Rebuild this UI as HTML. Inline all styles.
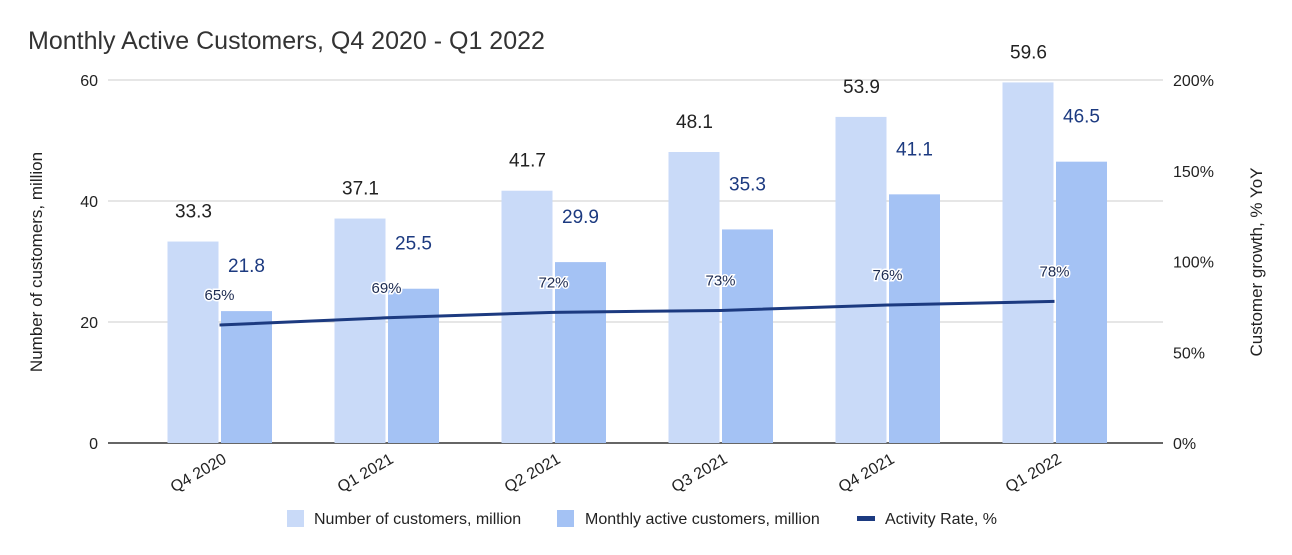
<!DOCTYPE html>
<html><head><meta charset="utf-8"><style>
body{margin:0;background:#fff;}
svg{display:block;font-family:"Liberation Sans",Arial,sans-serif;}
</style></head><body>
<svg id="chart" width="1292" height="555">
<text x="28" y="49" font-size="25" fill="#333">Monthly Active Customers, Q4 2020 - Q1 2022</text>
<text transform="translate(42,262) rotate(-90)" text-anchor="middle" font-size="17" fill="#222">Number of customers, million</text>
<text transform="translate(1262,262) rotate(-90)" text-anchor="middle" font-size="17" fill="#222">Customer growth, % YoY</text>
<g id="grid"></g><g id="bars"></g><g id="line"></g><g id="labels"></g>
<g id="legend">
<rect x="287" y="510" width="17" height="17" fill="#c9daf8"/>
<text x="314" y="524" font-size="16" fill="#222">Number of customers, million</text>
<rect x="557" y="510" width="17" height="17" fill="#a4c2f4"/>
<text x="585" y="524" font-size="16" fill="#222">Monthly active customers, million</text>
<rect x="857" y="516" width="18" height="5" fill="#1c3a80"/>
<text x="885" y="524" font-size="16" fill="#222">Activity Rate, %</text>
</g>
</svg>
<script>
const categories=["Q4 2020","Q1 2021","Q2 2021","Q3 2021","Q4 2021","Q1 2022"];
const customers=[33.3,37.1,41.7,48.1,53.9,59.6];
const activeCustomers=[21.8,25.5,29.9,35.3,41.1,46.5];
const activityRate=[65,69,72,73,76,78];
const leftTicks=[0,20,40,60];
const rightTicks=[0,50,100,150,200];
const NS="http://www.w3.org/2000/svg";
const y0=443,y1=80,pl=108,pr=1163;
const yL=v=>y0-(v/60)*(y0-y1);
const yR=v=>y0-(v/200)*(y0-y1);
const xC=i=>219.5+167*i;
function mk(t,a,p){const e=document.createElementNS(NS,t);for(const k in a)e.setAttribute(k,a[k]);document.getElementById(p).appendChild(e);return e;}
leftTicks.forEach(t=>{
 const l=mk("line",{x1:pl,x2:pr,y1:yL(t),y2:yL(t),stroke:t===0?"#333":"#ccc","stroke-width":t===0?1.5:1},"grid");
 
 
 const tx=mk("text",{x:98,y:yL(t)+6,"text-anchor":"end","font-size":16,fill:"#222"},"grid");tx.textContent=t;
 
 
});
rightTicks.forEach(t=>{
 const tx=mk("text",{x:1173,y:yR(t)+6,"font-size":16,fill:"#222"},"grid");tx.textContent=t+"%";
 
 
});
categories.forEach((c,i)=>{
 const cx=xC(i);
 const b1=mk("rect",{x:cx-52,y:yL(customers[i]),width:51,height:y0-yL(customers[i]),fill:"#c9daf8"},"bars");
 
 
 const b2=mk("rect",{x:cx+1.5,y:yL(activeCustomers[i]),width:51,height:y0-yL(activeCustomers[i]),fill:"#a4c2f4"},"bars");
 
 
 const t1=mk("text",{x:cx-26,y:yL(customers[i])-24,"text-anchor":"middle","font-size":19,fill:"#222"},"labels");t1.textContent=customers[i].toFixed(1);
 
 
 const t2=mk("text",{x:cx+27,y:yL(activeCustomers[i])-39,"text-anchor":"middle","font-size":19,fill:"#1c3a80"},"labels");t2.textContent=activeCustomers[i].toFixed(1);
 
 
 const t3=mk("text",{x:cx,y:yR(activityRate[i])-25,"text-anchor":"middle","font-size":15,fill:"#1c2a50",stroke:"#fff","stroke-width":3,"paint-order":"stroke"},"labels");t3.textContent=activityRate[i]+"%";
 
 
 const xl=mk("text",{transform:`translate(${cx+8},${462}) rotate(-30)`,"text-anchor":"end","font-size":16,fill:"#222"},"labels");xl.textContent=c;
 
 
});
const pts=activityRate.map((v,i)=>xC(i)+","+yR(v)).join(" ");
const pl2=mk("polyline",{points:pts,fill:"none",stroke:"#1c3a80","stroke-width":3},"line");


</script>
</body></html>
